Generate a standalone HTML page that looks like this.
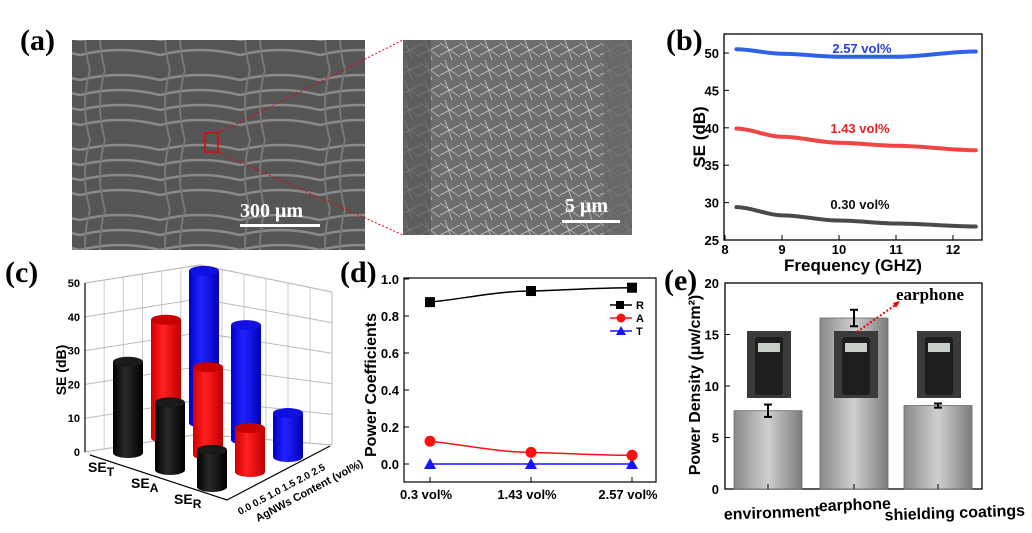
<!DOCTYPE html>
<html><head><meta charset="utf-8">
<style>
body{margin:0;background:#fff;width:1032px;height:528px;overflow:hidden;font-family:"Liberation Sans",sans-serif}
svg text{font-family:"Liberation Sans",sans-serif;font-weight:bold}
.pl{font-family:"Liberation Serif",serif !important;font-weight:bold;font-size:30px}
</style></head><body>
<svg id="fig" width="1032" height="528" viewBox="0 0 1032 528" xmlns="http://www.w3.org/2000/svg">
<defs>
<linearGradient id="barg" x1="0" x2="1" y1="0" y2="0"><stop offset="0" stop-color="#8a8a8a"/><stop offset="0.5" stop-color="#cfcfcf"/><stop offset="1" stop-color="#7c7c7c"/></linearGradient>
<pattern id="weave" width="80" height="70" patternUnits="userSpaceOnUse"><rect width="80" height="70" fill="#555"/><path d="M0 10 Q40 0 80 10 M0 25 Q40 15 80 25 M0 40 Q40 30 80 40 M0 55 Q40 45 80 55" stroke="#8a8a8a" stroke-width="2.5" fill="none"/><path d="M10 0 Q0 35 10 70 M25 0 Q15 35 25 70" stroke="#777" stroke-width="2" fill="none"/></pattern>
<pattern id="fib" width="20" height="20" patternUnits="userSpaceOnUse"><rect width="20" height="20" fill="#6e6e6e"/><path d="M0 3 L20 17 M0 15 L20 5 M5 0 L12 20" stroke="#cfcfcf" stroke-width="0.7"/></pattern>
<linearGradient id="cylK" x1="0" x2="1"><stop offset="0" stop-color="#000"/><stop offset="0.4" stop-color="#2a2a2a"/><stop offset="1" stop-color="#000"/></linearGradient>
<linearGradient id="cylR" x1="0" x2="1"><stop offset="0" stop-color="#d00000"/><stop offset="0.4" stop-color="#ff2020"/><stop offset="1" stop-color="#c00000"/></linearGradient>
<linearGradient id="cylB" x1="0" x2="1"><stop offset="0" stop-color="#0000c8"/><stop offset="0.4" stop-color="#2222ff"/><stop offset="1" stop-color="#0000b8"/></linearGradient>
</defs>

<text class="pl" x="20" y="50">(a)</text>
<rect x="72" y="40" width="293" height="210" fill="url(#weave)"/>
<rect x="403" y="40" width="229" height="195" fill="url(#fib)"/>
<rect x="403" y="40" width="28" height="195" fill="#555" opacity="0.7"/>
<rect x="604" y="40" width="28" height="195" fill="#666" opacity="0.8"/>
<rect x="205" y="133" width="13" height="19" fill="none" stroke="#e00" stroke-width="1.5"/>
<line x1="218" y1="133" x2="403" y2="40" stroke="#e00" stroke-dasharray="2,2"/>
<line x1="218" y1="152" x2="403" y2="235" stroke="#e00" stroke-dasharray="2,2"/>
<text x="240" y="217" fill="#fff" font-size="20" style="font-family:'Liberation Serif',serif">300 μm</text>
<rect x="240" y="224" width="80" height="3" fill="#fff"/>
<text x="565" y="212" fill="#fff" font-size="20" style="font-family:'Liberation Serif',serif">5 μm</text>
<rect x="562" y="220" width="58" height="3" fill="#fff"/>

<text class="pl" x="666" y="50">(b)</text>
<text class="pl" x="5" y="282">(c)</text>
<text class="pl" x="340" y="282">(d)</text>
<text class="pl" x="664" y="290">(e)</text>

<g id="pb"></g><g id="pc"></g><g id="pd"></g><g id="pe"></g>
</svg>
<script>
const NS="http://www.w3.org/2000/svg";
function mk(p,tag,attrs,txt){const e=document.createElementNS(NS,tag);for(const k in attrs)e.setAttribute(k,attrs[k]);if(txt!==undefined)e.textContent=txt;p.appendChild(e);return e;}

const bFreq=[8.2,9,10,11,12.4];
const bBlue=[50.5,49.9,49.5,49.5,50.2];
const bRed=[39.9,38.8,38.0,37.6,37.0];
const bBlack=[29.4,28.3,27.6,27.2,26.8];
const bYTicks=[25,30,35,40,45,50];
const bXTicks=[8,9,10,11,12];
const cCats=["SET","SEA","SER"];
const cContents=["0.30 vol%","1.43 vol%","2.57 vol%"];
const cBlack=[27,20,11];
const cRed=[35,26,13];
const cBlue=[45,34,13];
const cZTicks=[0,10,20,30,40,50];
const dCats=["0.3 vol%","1.43 vol%","2.57 vol%"];
const dR=[0.875,0.935,0.953];
const dA=[0.123,0.063,0.047];
const dT=[0,0,0];
const dYTicks=[0,0.2,0.4,0.6,0.8,1.0];
const eCats=["environment","earphone","shielding coatings"];
const eVals=[7.6,16.6,8.1];
const eErr=[0.6,0.8,0.2];
const eYTicks=[0,5,10,15,20];

(function(){
const g=document.getElementById('pb');
const x=f=>725+(f-8)*57, y=v=>240-(v-25)*7.48;
let fr=mk(g,'rect',{x:724,y:34,width:258,height:206,fill:'none',stroke:'#000','stroke-width':1.3});

bYTicks.forEach(v=>{mk(g,'line',{x1:724,x2:729,y1:y(v),y2:y(v),stroke:'#000'});
 let t=mk(g,'text',{x:719,y:y(v)+5,'font-size':13,'text-anchor':'end'},v);});
bXTicks.forEach(v=>{mk(g,'line',{x1:x(v),x2:x(v),y1:240,y2:235,stroke:'#000'});
 let t=mk(g,'text',{x:x(v),y:254,'font-size':13,'text-anchor':'middle'},v);});
let xt=mk(g,'text',{x:853,y:271,'font-size':17,'text-anchor':'middle'},'Frequency (GHZ)');
let yt=mk(g,'text',{x:0,y:0,'font-size':17,'text-anchor':'middle',transform:'translate(705,137) rotate(-90)'},'SE (dB)');
function curve(vals,col,name){
 let d='';for(let i=0;i<bFreq.length;i++){
  if(i===0)d+='M'+x(bFreq[0])+' '+y(vals[0]);
  else{const x0=x(bFreq[i-1]),y0=y(vals[i-1]),x1=x(bFreq[i]),y1=y(vals[i]);d+=` C${(x0*2+x1)/3} ${y0} ${(x0+x1*2)/3} ${y1} ${x1} ${y1}`;}
 }
 const p=mk(g,'path',{d:d,fill:'none',stroke:col,'stroke-width':4,'stroke-linecap':'round'});
 
}
curve(bBlue,'#2f63e6','line-2.57vol');curve(bRed,'#f04545','line-1.43vol');curve(bBlack,'#4a4a4a','line-0.30vol');
let l1=mk(g,'text',{x:862,y:53,'font-size':13,fill:'#2040e0','text-anchor':'middle'},'2.57 vol%');
let l2=mk(g,'text',{x:860,y:133,'font-size':13,fill:'#e82020','text-anchor':'middle'},'1.43 vol%');
let l3=mk(g,'text',{x:860,y:209,'font-size':13,fill:'#111','text-anchor':'middle'},'0.30 vol%');
})();

(function(){
const g=document.getElementById('pc');
const ox=128,oy=453,ci=[42,17],cj=[38,-15],zs=3.38;
const P=(i,j,z)=>[ox+i*ci[0]+j*cj[0], oy+i*ci[1]+j*cj[1]-z*zs];
// back walls: left edge (85: top 283, bottom 452), corner (200: 265,434), right (332: 292,445)
const L=[85,283,452],C=[200,265,434],R=[332,292,445];
const wy=(e,v)=>e[2]-(e[2]-e[1])*v/50;
const walls=mk(g,'g',{});
mk(walls,'polygon',{points:`${L[0]},${L[2]} ${C[0]},${C[2]} ${C[0]},${C[1]} ${L[0]},${L[1]}`,fill:'#fff',stroke:'#bbb'});
mk(walls,'polygon',{points:`${C[0]},${C[2]} ${R[0]},${R[2]} ${R[0]},${R[1]} ${C[0]},${C[1]}`,fill:'#fff',stroke:'#bbb'});
for(let k=1;k<6;k++){
 const xl=L[0]+(C[0]-L[0])*k/6;mk(walls,'line',{x1:xl,x2:xl,y1:L[2]+(C[2]-L[2])*k/6,y2:L[1]+(C[1]-L[1])*k/6,stroke:'#ccc'});
 const xr=C[0]+(R[0]-C[0])*k/6;mk(walls,'line',{x1:xr,x2:xr,y1:C[2]+(R[2]-C[2])*k/6,y2:C[1]+(R[1]-C[1])*k/6,stroke:'#ccc'});
}
cZTicks.forEach(v=>{
 mk(walls,'line',{x1:L[0],y1:wy(L,v),x2:C[0],y2:wy(C,v),stroke:'#bbb'});
 mk(walls,'line',{x1:C[0],y1:wy(C,v),x2:R[0],y2:wy(R,v),stroke:'#bbb'});
 let t=mk(g,'text',{x:80,y:wy(L,v)+4,'font-size':11,'text-anchor':'end'},v);
});
mk(g,'line',{x1:L[0],y1:L[1],x2:L[0],y2:L[2],stroke:'#000','stroke-width':1.2});
mk(g,'polyline',{points:`90,455 227,500 330,446`,fill:'none',stroke:'#000','stroke-width':1.2});
let yt=mk(g,'text',{x:0,y:0,'font-size':14,'text-anchor':'middle',transform:'translate(66,370) rotate(-90)'},'SE (dB)');
const sub=["T","A","R"];
cCats.forEach((c,i)=>{const t=mk(g,'text',{x:88+i*43,y:472+i*16,'font-size':14},'SE');
 mk(t,'tspan',{dy:4,'font-size':12},sub[i]);});
let at=mk(g,'text',{x:0,y:0,'font-size':10,transform:'translate(240,515) rotate(-28)'},'0.0  0.5  1.0  1.5  2.0  2.5');
let ct=mk(g,'text',{x:0,y:0,'font-size':11,transform:'translate(258,522) rotate(-28)'},'AgNWs Content (vol%)');
const series=[cBlack,cRed,cBlue],fills=['url(#cylK)','url(#cylR)','url(#cylB)'],tops=['#1a1a1a','#c80000','#1010e0'];
const rx=15,ry=5;
for(let j=2;j>=0;j--){for(let i=0;i<3;i++){
 const v=series[j][i];const [bx,by]=P(i,j,0);const ty=by-v*zs;
 const grp=mk(g,'g',{});
 
 mk(grp,'path',{d:`M${bx-rx} ${ty} L${bx-rx} ${by} A${rx} ${ry} 0 0 0 ${bx+rx} ${by} L${bx+rx} ${ty} Z`,fill:fills[j]});
 mk(grp,'ellipse',{cx:bx,cy:ty,rx:rx,ry:ry,fill:tops[j]});
}}
})();

(function(){
const g=document.getElementById('pd');
const y=v=>464-v*185, x=i=>430+i*101;
let fr=mk(g,'rect',{x:404,y:278,width:252,height:204,fill:'none',stroke:'#000','stroke-width':1.2});

dYTicks.forEach(v=>{mk(g,'line',{x1:404,x2:409,y1:y(v),y2:y(v),stroke:'#000'});
 let t=mk(g,'text',{x:399,y:y(v)+5,'font-size':13,'text-anchor':'end'},v.toFixed(1));});
dCats.forEach((c,i)=>{mk(g,'line',{x1:x(i),x2:x(i),y1:482,y2:477,stroke:'#000'});
 let t=mk(g,'text',{x:x(i)-4,y:499,'font-size':13,'text-anchor':'middle'},c);});
let yt=mk(g,'text',{x:0,y:0,'font-size':16,'text-anchor':'middle',transform:'translate(376,385) rotate(-90)'},'Power Coefficients');
function ser(vals,col,shape,name){
 let d='';vals.forEach((v,i)=>{if(i===0)d='M'+x(0)+' '+y(v);else{const x0=x(i-1),y0=y(vals[i-1]),x1=x(i),y1=y(v);d+=` C${(x0*2+x1)/3} ${y0+(y1-y0)*0.3} ${(x0+x1*2)/3} ${y1} ${x1} ${y1}`;}});
 const p=mk(g,'path',{d:d,fill:'none',stroke:col,'stroke-width':1.5});
 vals.forEach((v,i)=>{let m;const cx=x(i),cy=y(v);
  if(shape==='s')m=mk(g,'rect',{x:cx-5,y:cy-5,width:10,height:10,fill:col});
  else if(shape==='c')m=mk(g,'circle',{cx:cx,cy:cy,r:5.5,fill:col});
  else m=mk(g,'polygon',{points:`${cx},${cy-6} ${cx+6},${cy+5} ${cx-6},${cy+5}`,fill:col});
  });
}
ser(dT,'#1515ff','t','T');ser(dA,'#ff1010','c','A');ser(dR,'#000','s','R');
[['R','#000','s'],['A','#ff1010','c'],['T','#1515ff','t']].forEach((L,k)=>{
 const ly=305+k*13;const lg=mk(g,'g',{});
 mk(lg,'line',{x1:610,x2:632,y1:ly,y2:ly,stroke:L[1],'stroke-width':1.5});
 if(L[2]==='s')mk(lg,'rect',{x:616,y:ly-4,width:8,height:8,fill:L[1]});
 else if(L[2]==='c')mk(lg,'circle',{cx:621,cy:ly,r:4.5,fill:L[1]});
 else mk(lg,'polygon',{points:`621,${ly-5} 626,${ly+4} 616,${ly+4}`,fill:L[1]});
 mk(lg,'text',{x:636,y:ly+4,'font-size':11},L[0]);
});
})();

(function(){
const g=document.getElementById('pe');
const y=v=>489-v*10.3, cx=[768,854,938], bw=68;
let fr=mk(g,'rect',{x:725,y:283,width:257,height:206,fill:'none',stroke:'#000','stroke-width':1.3});

eYTicks.forEach(v=>{mk(g,'line',{x1:725,x2:730,y1:y(v),y2:y(v),stroke:'#000'});
 let t=mk(g,'text',{x:719,y:y(v)+5,'font-size':13,'text-anchor':'end'},v);});
let yt=mk(g,'text',{x:0,y:0,'font-size':16,'text-anchor':'middle',transform:'translate(700,385) rotate(-90)'},'Power Density (μw/cm²)');
eVals.forEach((v,i)=>{
 const b=mk(g,'rect',{x:cx[i]-bw/2,y:y(v),width:bw,height:489-y(v),fill:'url(#barg)',stroke:'#666','stroke-width':0.8});
 
 const e=eErr[i],eg=mk(g,'g',{stroke:'#000','stroke-width':2});
 mk(eg,'line',{x1:cx[i],x2:cx[i],y1:y(v+e),y2:y(v-e)});mk(eg,'line',{x1:cx[i]-4,x2:cx[i]+4,y1:y(v+e),y2:y(v+e)});mk(eg,'line',{x1:cx[i]-4,x2:cx[i]+4,y1:y(v-e),y2:y(v-e)});
 mk(g,'line',{x1:cx[i],x2:cx[i],y1:489,y2:484,stroke:'#000'});
 const ph=mk(g,'g',{});
 const px=[747,834,917][i];
 mk(ph,'rect',{x:px,y:331,width:44,height:67,fill:'#3a3a3a'});
 mk(ph,'rect',{x:px+8,y:337,width:28,height:58,fill:'#1e1e1e',rx:3});
 mk(ph,'rect',{x:px+11,y:343,width:22,height:9,fill:'#c8cfc8'});
});
[['environment',772,518],['earphone',855,510],['shielding coatings',955,518]].forEach((L,i)=>{
 let t=mk(g,'text',{x:L[1],y:L[2],'font-size':16,'text-anchor':'middle',transform:`rotate(-2 ${L[1]} ${L[2]})`},L[0]);});
let an=mk(g,'text',{x:896,y:300,'font-size':17,style:"font-family:'Liberation Serif',serif"},'earphone');
mk(g,'line',{x1:857,y1:332,x2:898,y2:303,stroke:'#e00','stroke-width':2,'stroke-dasharray':'2,2'});
mk(g,'polygon',{points:'900,301 893,303 896,308',fill:'#e00'});
})();
</script>
</body></html>
